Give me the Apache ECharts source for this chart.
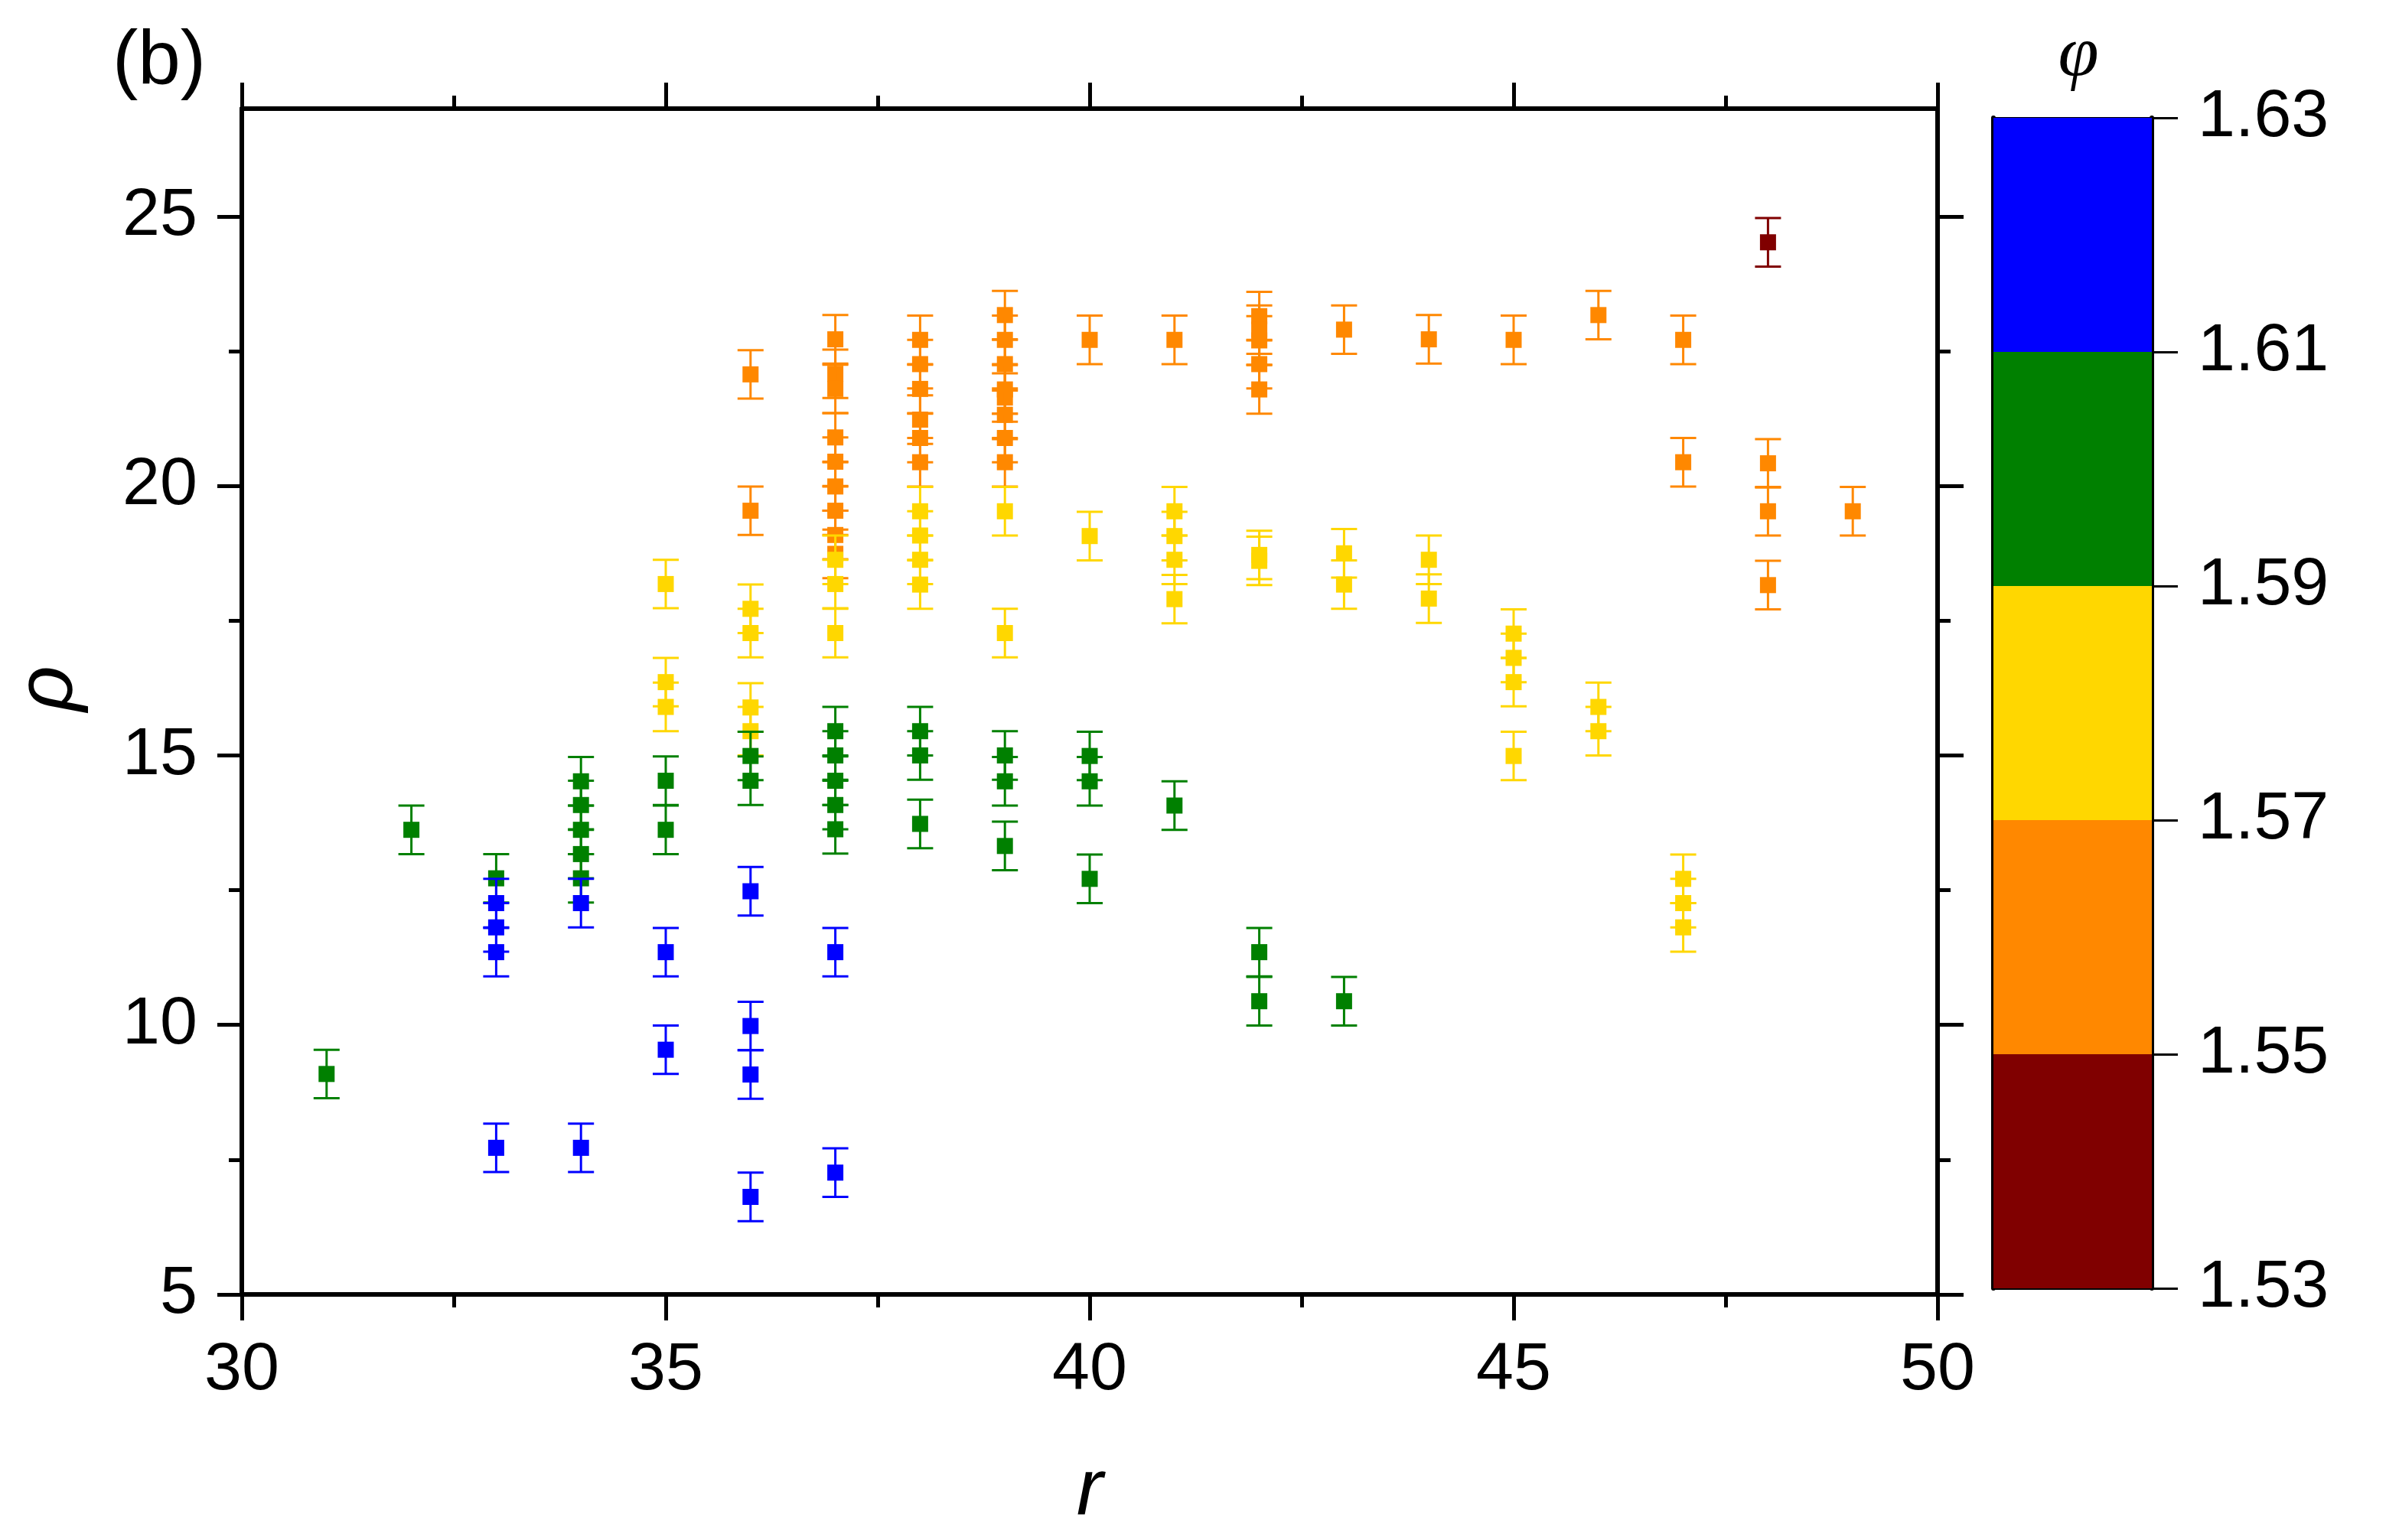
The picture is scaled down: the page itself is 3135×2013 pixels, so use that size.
<!DOCTYPE html>
<html><head><meta charset="utf-8">
<script src="https://cdn.jsdelivr.net/npm/echarts@6/dist/echarts.min.js"></script>
<style>html,body{margin:0;padding:0;background:#fff}#c{width:3135px;height:2013px}</style>
</head><body><div id="c"></div>
<script>
// ---- tick labels ----
const xTicks = [30, 35, 40, 45, 50];
const xMinorTicks = [32.5, 37.5, 42.5, 47.5];
const yTicks = [5, 10, 15, 20, 25];
const yMinorTicks = [7.5, 12.5, 17.5, 22.5];
const phiTicks = [1.53, 1.55, 1.57, 1.59, 1.61, 1.63];
const phiBandColors = ['#800000', '#FF8800', '#FFD700', '#008000', '#0000FF'];
const rhoErr = 0.45;

// ---- data: r and rho per phi class ----
const blueR   = [33, 33, 33, 33, 34, 34, 35, 35, 36, 36, 36, 36, 37, 37];
const blueRho = [12.26, 11.81, 11.35, 7.72, 12.26, 7.72, 11.35, 9.54, 12.48, 9.98, 9.08, 6.81, 11.35, 7.26];

const greenR   = [31, 32, 33, 34, 34, 34, 34, 34, 35, 35, 36, 36, 37, 37, 37, 37, 37, 38, 38, 38, 39, 39, 39, 40, 40, 40, 41, 42, 42, 43];
const greenRho = [9.09, 13.62, 12.72, 14.52, 14.08, 13.62, 13.17, 12.72, 14.53, 13.62, 14.99, 14.53, 15.45, 15.00, 14.53, 14.08, 13.63, 15.45, 15.00, 13.73, 15.00, 14.52, 13.32, 14.99, 14.52, 12.71, 14.07, 11.35, 10.44, 10.44];

const yellowR   = [35, 35, 35, 36, 36, 36, 36, 37, 37, 37, 38, 38, 38, 38, 39, 39, 40, 41, 41, 41, 41, 42, 42, 43, 43, 44, 44, 45, 45, 45, 45, 46, 46, 47, 47, 47];
const yellowRho = [18.18, 16.36, 15.90, 17.72, 17.27, 15.89, 15.45, 18.63, 18.18, 17.27, 19.53, 19.08, 18.63, 18.17, 19.53, 17.27, 19.07, 19.53, 19.07, 18.63, 17.90, 18.72, 18.61, 18.75, 18.17, 18.63, 17.91, 17.26, 16.81, 16.36, 14.99, 15.90, 15.45, 12.71, 12.26, 11.81];

const orangeR   = [36, 36, 37, 37, 37, 37, 37, 37, 37, 37, 37, 38, 38, 38, 38, 38, 38, 39, 39, 39, 39, 39, 39, 39, 39, 40, 41, 42, 42, 42, 42, 42, 43, 44, 45, 46, 47, 47, 48, 48, 48, 49];
const orangeRho = [22.07, 19.54, 22.72, 22.08, 21.80, 20.90, 20.45, 19.99, 19.54, 19.09, 18.74, 22.71, 22.26, 21.80, 21.23, 20.89, 20.44, 23.17, 22.71, 22.26, 21.79, 21.64, 21.32, 20.89, 20.44, 22.71, 22.71, 23.15, 22.90, 22.70, 22.26, 21.79, 22.90, 22.72, 22.71, 23.17, 22.71, 20.44, 20.42, 19.53, 18.16, 19.53];

const darkredR   = [48];
const darkredRho = [24.52];

const groups = [
  { r: orangeR, rho: orangeRho, color: '#FF8800' },
  { r: yellowR, rho: yellowRho, color: '#FFD700' },
  { r: greenR, rho: greenRho, color: '#008000' },
  { r: blueR, rho: blueRho, color: '#0000FF' },
  { r: darkredR, rho: darkredRho, color: '#800000' }
];

const FONT = '"Liberation Sans", Arial, sans-serif';

function errRender(color) {
  return function (params, api) {
    const r = api.value(0), v = api.value(1);
    const p = api.coord([r, v]);
    const hi = api.coord([r, v + rhoErr]);
    const lo = api.coord([r, v - rhoErr]);
    const cw = 17, s = 10.5;
    const st = { stroke: color, lineWidth: 3 };
    return {
      type: 'group', children: [
        { type: 'line', shape: { x1: p[0], y1: hi[1], x2: p[0], y2: lo[1] }, style: st },
        { type: 'line', shape: { x1: p[0] - cw, y1: hi[1], x2: p[0] + cw, y2: hi[1] }, style: st },
        { type: 'line', shape: { x1: p[0] - cw, y1: lo[1], x2: p[0] + cw, y2: lo[1] }, style: st },
        { type: 'rect', shape: { x: p[0] - s, y: p[1] - s, width: 2 * s, height: 2 * s }, style: { fill: color } }
      ]
    };
  };
}

const series = groups.map(g => ({
  type: 'custom',
  xAxisIndex: 0, yAxisIndex: 0,
  data: g.r.map((r, i) => [r, g.rho[i]]),
  encode: { x: 0, y: 1 },
  renderItem: errRender(g.color),
  clip: false
}));

const bands = phiBandColors.map((c, i) => [phiTicks[i], phiTicks[i + 1], i]);
series.push({
  type: 'custom',
  xAxisIndex: 4, yAxisIndex: 4,
  data: bands,
  encode: { y: [0, 1] },
  renderItem: function (params, api) {
    const a = api.coord([0, api.value(0)]);
    const b = api.coord([1, api.value(1)]);
    return { type: 'rect', shape: { x: a[0], y: b[1], width: b[0] - a[0], height: a[1] - b[1] },
      style: { fill: phiBandColors[api.value(2)] } };
  }
});

const lineBlk = w => ({ show: true, onZero: false, lineStyle: { color: '#000', width: w } });
const noLine = { show: false, onZero: false };

function ax(gridIndex, pos, min, max, opts) {
  return Object.assign({
    type: 'value', gridIndex: gridIndex, position: pos, min: min, max: max,
    splitLine: { show: false }, axisLabel: { show: false }, axisTick: { show: false }, axisLine: noLine
  }, opts);
}

const majorTick = (vals, len) => ({ show: true, customValues: vals, length: len, inside: false, lineStyle: { color: '#000', width: 5 } });
const labelStyle = (vals, margin, fmt) => ({ show: true, customValues: vals, margin: margin, fontSize: 88, fontFamily: FONT, color: '#000', formatter: fmt });

const option = {
  backgroundColor: '#fff',
  animation: false,
  grid: [
    { left: 316, top: 142, width: 2216, height: 1550, containLabel: false },
    { left: 2605, top: 154, width: 207, height: 1530, containLabel: false }
  ],
  xAxis: [
    ax(0, 'bottom', 30, 50, { interval: 5, axisLine: lineBlk(6), axisTick: majorTick(xTicks, 34), axisLabel: labelStyle(xTicks, 56) }),
    ax(0, 'bottom', 30, 50, { interval: 5, axisTick: majorTick(xMinorTicks, 17) }),
    ax(0, 'top', 30, 50, { interval: 5, axisLine: lineBlk(6), axisTick: majorTick(xTicks, 34) }),
    ax(0, 'top', 30, 50, { interval: 5, axisTick: majorTick(xMinorTicks, 17) }),
    ax(1, 'bottom', 0, 1, { axisLine: lineBlk(3) }),
    ax(1, 'top', 0, 1, { axisLine: lineBlk(3) })
  ],
  yAxis: [
    ax(0, 'left', 5, 27, { interval: 5, axisLine: lineBlk(6), axisTick: majorTick(yTicks, 32), axisLabel: labelStyle(yTicks, 58) }),
    ax(0, 'left', 5, 27, { interval: 5, axisTick: majorTick(yMinorTicks, 17) }),
    ax(0, 'right', 5, 27, { interval: 5, axisLine: lineBlk(6), axisTick: majorTick(yTicks, 34) }),
    ax(0, 'right', 5, 27, { interval: 5, axisTick: majorTick(yMinorTicks, 17) }),
    ax(1, 'left', 1.53, 1.63, { axisLine: lineBlk(6) }),
    ax(1, 'right', 1.53, 1.63, { axisLine: lineBlk(6),
      axisTick: { show: true, customValues: phiTicks, length: 34, lineStyle: { color: '#000', width: 3 } },
      axisLabel: labelStyle(phiTicks, 60, v => v.toFixed(2)) })
  ],
  graphic: [
    { type: 'text', x: 208, y: 82, style: { text: '(b)', font: '100px ' + FONT, fill: '#000', align: 'center', verticalAlign: 'middle' } },
    { type: 'text', x: 2716, y: 74, style: { text: 'φ', font: 'italic 96px "Liberation Serif", "DejaVu Serif", serif', fill: '#000', align: 'center', verticalAlign: 'middle' } },
    { type: 'text', x: 1424, y: 1950, style: { text: 'r', font: 'italic 104px ' + FONT, fill: '#000', align: 'center', verticalAlign: 'middle' } },
    { type: 'text', x: 64, y: 900, rotation: Math.PI / 2, style: { text: 'ρ', font: 'italic 104px ' + FONT, fill: '#000', align: 'center', verticalAlign: 'middle' } }
  ],
  series: series
};

const chart = echarts.init(document.getElementById('c'), null, { renderer: 'canvas' });
chart.setOption(option);
</script>
</body></html>
